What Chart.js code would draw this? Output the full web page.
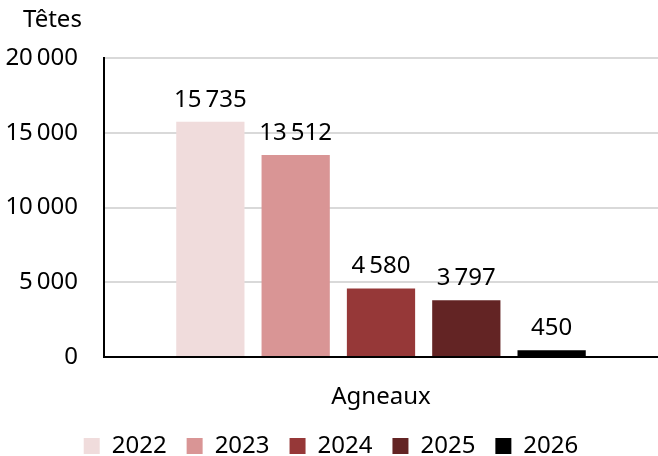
<!DOCTYPE html>
<html>
<head>
<meta charset="utf-8">
<script src="https://cdn.jsdelivr.net/npm/chart.js@4"></script>
<style>
  html, body { margin: 0; padding: 0; background: #fff; }
  #wrap { width: 658px; height: 456px; }
</style>
</head>
<body>
<div id="wrap"><canvas id="chart" width="658" height="456"></canvas></div>
<script>
const categories = ["Agneaux"];
const years = ["2022", "2023", "2024", "2025", "2026"];
const values = [15735, 13512, 4580, 3797, 450];
const colors = ["#f0dcdc", "#d99595", "#963838", "#632424", "#000000"];
const yTicks = [0, 5000, 10000, 15000, 20000];

const FONT = "'Noto Sans', sans-serif";
const SIZE = 24;
const fmt = v => String(v).replace(/\B(?=(\d{3})+(?!\d))/g, "\u2009");

const valueLabels = {
    id: "valueLabels",
    afterDatasetsDraw(chart) {
        const ctx = chart.ctx;
        ctx.save();
        ctx.font = SIZE + "px " + FONT;
        ctx.fillStyle = "#000";
        ctx.textAlign = "center";
        ctx.textBaseline = "bottom";
        chart.data.datasets.forEach((ds, i) => {
            chart.getDatasetMeta(i).data.forEach((bar, j) => {
                ctx.fillText(fmt(ds.data[j]), bar.x, bar.y - 10);
            });
        });
        ctx.restore();
    }
};

const unitLabel = {
    id: "unitLabel",
    afterDraw(chart) {
        const ctx = chart.ctx;
        ctx.save();
        ctx.font = SIZE + "px " + FONT;
        ctx.fillStyle = "#000";
        ctx.textAlign = "left";
        ctx.textBaseline = "middle";
        ctx.fillText("Têtes", 23, 20);
        ctx.restore();
    }
};

const ctx = document.getElementById("chart").getContext("2d");
new Chart(ctx, {
    type: "bar",
    data: {
        labels: categories,
        datasets: years.map((y, i) => ({
            label: y,
            data: [values[i]],
            backgroundColor: colors[i],
            borderWidth: 0,
            categoryPercentage: 0.77,
            barPercentage: 0.8
        }))
    },
    options: {
        responsive: false,
        animation: false,
        layout: { padding: { top: 58, left: 4, right: 0, bottom: -12 } },
        scales: {
            x: {
                grid: { display: false, drawTicks: false },
                border: { color: "#000", width: 2 },
                ticks: { color: "#000", font: { size: SIZE, family: FONT }, padding: 26 },
                afterFit: scale => { scale.height = 57; }
            },
            y: {
                min: 0,
                max: 20000,
                afterBuildTicks: axis => { axis.ticks = yTicks.map(v => ({ value: v })); },
                afterFit: scale => { scale.width = 100; },
                grid: { color: "#d9d9d9", lineWidth: 2, drawTicks: false },
                border: { color: "#000", width: 2 },
                ticks: {
                    color: "#000",
                    font: { size: SIZE, family: FONT },
                    padding: 26,
                    callback: v => fmt(v)
                }
            }
        },
        plugins: {
            legend: {
                position: "bottom",
                labels: {
                    color: "#000",
                    font: { size: SIZE, family: FONT },
                    boxWidth: 16,
                    boxHeight: 16,
                    padding: 20
                }
            },
            tooltip: { enabled: false }
        }
    },
    plugins: [valueLabels, unitLabel]
});
</script>
</body>
</html>
